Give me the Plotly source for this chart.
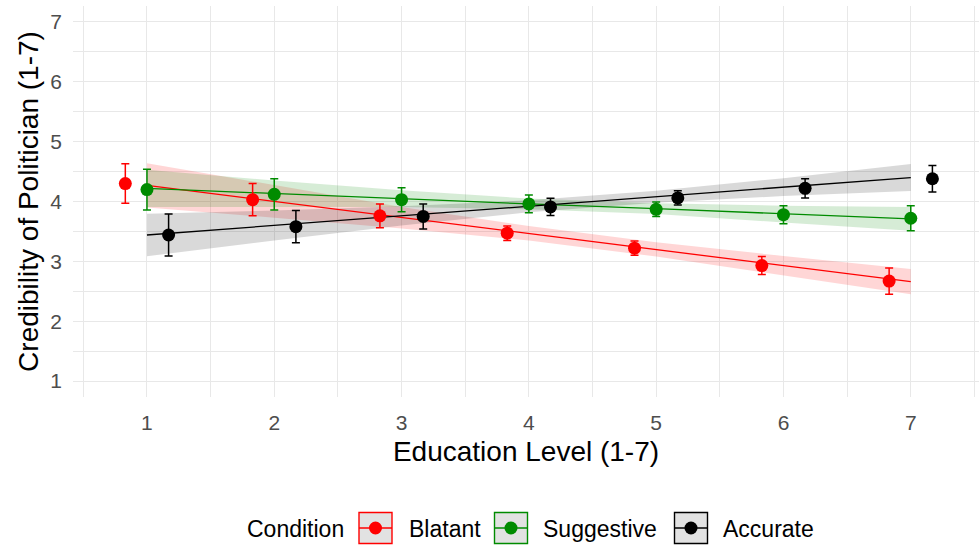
import plotly.graph_objects as go

# Education levels and group offsets (dodge) for the points
education = [1, 2, 3, 4, 5, 6, 7]
conditions = ["Blatant", "Suggestive", "Accurate"]
colors = {"Blatant": "#FF0000", "Suggestive": "#008B00", "Accurate": "#000000"}
ribbon_fill = {"Blatant": "rgba(255,0,0,0.16)",
               "Suggestive": "rgba(0,139,0,0.16)",
               "Accurate": "rgba(0,0,0,0.15)"}
dodge = {"Blatant": -0.17, "Suggestive": 0.0, "Accurate": 0.17}

# Mean credibility per education level and the error-bar half widths
means = {
    "Blatant":    [4.30, 4.03, 3.76, 3.47, 3.22, 2.93, 2.67],
    "Suggestive": [4.20, 4.12, 4.03, 3.96, 3.87, 3.78, 3.72],
    "Accurate":   [3.44, 3.58, 3.75, 3.91, 4.06, 4.22, 4.38],
}
errors = {
    "Blatant":    [0.33, 0.27, 0.20, 0.12, 0.12, 0.15, 0.22],
    "Suggestive": [0.34, 0.26, 0.20, 0.15, 0.12, 0.15, 0.21],
    "Accurate":   [0.35, 0.27, 0.21, 0.145, 0.12, 0.16, 0.22],
}

# Linear fit per condition and its confidence band half width
fits = {
    "Blatant":    [4.27, 4.00, 3.73, 3.47, 3.20, 2.93, 2.66],
    "Suggestive": [4.22, 4.13, 4.05, 3.96, 3.88, 3.79, 3.71],
    "Accurate":   [3.44, 3.60, 3.76, 3.92, 4.08, 4.24, 4.40],
}
bands = {
    "Blatant":    [0.37, 0.27, 0.18, 0.12, 0.12, 0.16, 0.21],
    "Suggestive": [0.31, 0.22, 0.14, 0.09, 0.09, 0.14, 0.20],
    "Accurate":   [0.355, 0.25, 0.16, 0.10, 0.10, 0.15, 0.225],
}

x_ticks = [1, 2, 3, 4, 5, 6, 7]
y_ticks = [1, 2, 3, 4, 5, 6, 7]

FONT = "Liberation Sans, Arial, sans-serif"
W, H = 979, 548
ML, MR, MT, MB = 73, 0, 6, 151
PW, PH = W - ML - MR, H - MT - MB

fig = go.Figure()

# confidence ribbons
for c in conditions:
    upper = [f + b for f, b in zip(fits[c], bands[c])]
    lower = [f - b for f, b in zip(fits[c], bands[c])]
    fig.add_trace(go.Scatter(
        x=education + education[::-1], y=upper + lower[::-1],
        fill="toself", fillcolor=ribbon_fill[c], line=dict(width=0),
        mode="lines", hoverinfo="skip", showlegend=False))

# fitted lines
for c in conditions:
    fig.add_trace(go.Scatter(
        x=education, y=fits[c], mode="lines",
        line=dict(color=colors[c], width=1.3), showlegend=False,
        hoverinfo="skip"))

# group means with error bars
for c in conditions:
    fig.add_trace(go.Scatter(
        x=[e + dodge[c] for e in education], y=means[c], mode="markers",
        marker=dict(color=colors[c], size=13),
        error_y=dict(type="data", array=errors[c], color=colors[c],
                     thickness=1.5, width=4),
        name=c, showlegend=False))


def px_x(p):
    return (p - ML) / PW


def px_y(p):
    return (H - MB - p) / PH


# legend drawn below the panel
shapes = []
annotations = []
legend_y = 528
box_w, box_h = 33, 31
box_centres = {"Blatant": 375.5, "Suggestive": 511, "Accurate": 691}
label_left = {"Blatant": 407, "Suggestive": 541, "Accurate": 721}

annotations.append(dict(x=px_x(245), y=px_y(529), xref="paper", yref="paper",
                        text="Condition", showarrow=False, xanchor="left",
                        yanchor="middle",
                        font=dict(family=FONT, size=23, color="#000000")))
for c in conditions:
    cx = box_centres[c]
    shapes.append(dict(type="rect", xref="paper", yref="paper",
                       x0=px_x(cx - box_w / 2), x1=px_x(cx + box_w / 2),
                       y0=px_y(legend_y - box_h / 2), y1=px_y(legend_y + box_h / 2),
                       fillcolor="#E2E2E2", line=dict(color=colors[c], width=1.4)))
    shapes.append(dict(type="line", xref="paper", yref="paper",
                       x0=px_x(cx - box_w / 2), x1=px_x(cx + box_w / 2),
                       y0=px_y(legend_y), y1=px_y(legend_y),
                       line=dict(color=colors[c], width=1.3)))
    shapes.append(dict(type="circle", xref="paper", yref="paper",
                       x0=px_x(cx - 6.5), x1=px_x(cx + 6.5),
                       y0=px_y(legend_y - 6.5), y1=px_y(legend_y + 6.5),
                       fillcolor=colors[c], line=dict(width=0)))
    annotations.append(dict(x=px_x(label_left[c]), y=px_y(529), xref="paper",
                            yref="paper", text=c, showarrow=False,
                            xanchor="left", yanchor="middle",
                            font=dict(family=FONT, size=23, color="#000000")))

grid = "#E8E8E8"
fig.update_layout(
    width=W, height=H,
    margin=dict(l=ML, r=MR, t=MT, b=MB),
    paper_bgcolor="white", plot_bgcolor="white",
    font=dict(family=FONT),
    showlegend=False,
    shapes=shapes,
    annotations=annotations,
    xaxis=dict(
        range=[0.419, 7.536], tickvals=x_ticks,
        ticktext=[str(v) for v in x_ticks],
        tickfont=dict(family=FONT, size=21, color="#4D4D4D"),
        ticklabelstandoff=11,
        showgrid=True, gridcolor=grid, gridwidth=1.4,
        minor=dict(tickvals=[0.5, 1.5, 2.5, 3.5, 4.5, 5.5, 6.5, 7.5],
                   showgrid=True, gridcolor=grid, gridwidth=1.0),
        zeroline=False, showline=False,
        title=dict(text="Education Level (1-7)", standoff=8,
                   font=dict(family=FONT, size=28, color="#000000")),
    ),
    yaxis=dict(
        range=[0.733, 7.267], tickvals=y_ticks,
        ticktext=[str(v) for v in y_ticks],
        tickfont=dict(family=FONT, size=21, color="#4D4D4D"),
        ticklabelstandoff=10,
        showgrid=True, gridcolor=grid, gridwidth=1.4,
        minor=dict(tickvals=[1.5, 2.5, 3.5, 4.5, 5.5, 6.5],
                   showgrid=True, gridcolor=grid, gridwidth=1.0),
        zeroline=False, showline=False,
        title=dict(text="Credibility of Politician (1-7)", standoff=3,
                   font=dict(family=FONT, size=28, color="#000000")),
    ),
)

fig.write_html("out.html")
